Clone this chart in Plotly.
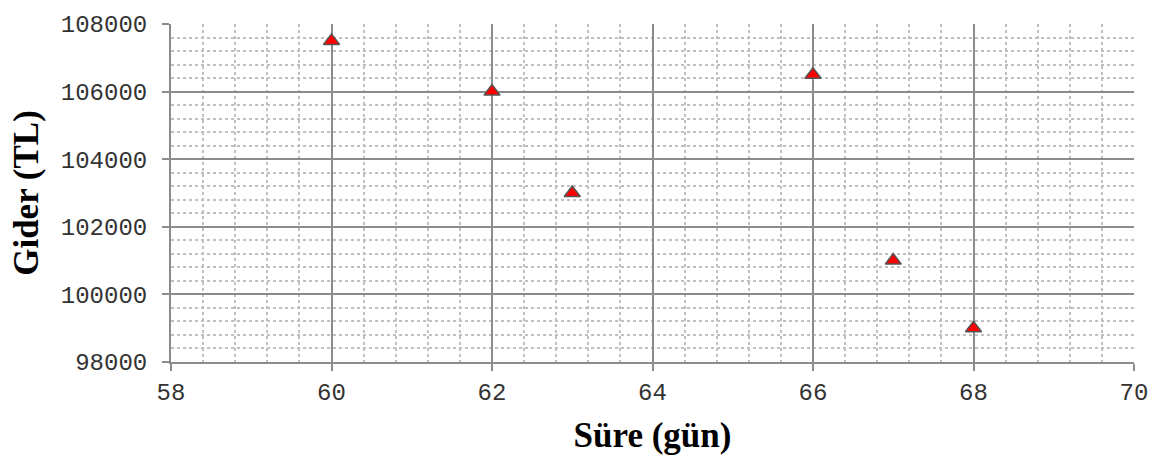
import plotly.graph_objects as go

sure_gun = [60, 62, 63, 66, 67, 68]
gider_tl = [107500, 106000, 103000, 106500, 101000, 99000]
x_title = "Süre (gün)"
y_title = "Gider (TL)"

fig = go.Figure()
fig.add_trace(go.Scatter(
    x=sure_gun, y=gider_tl, mode="markers",
    marker=dict(symbol="triangle-up", size=14, color="#ff0000",
                line=dict(color="#555555", width=1.5)),
    showlegend=False,
))

tick_font = dict(family="Liberation Mono, Courier New, monospace", size=24, color="#333")
title_font = dict(family="Liberation Serif, Times New Roman, serif", size=35, color="#000")

fig.update_layout(
    width=1160, height=461,
    margin=dict(l=171, r=23, t=18, b=99),
    paper_bgcolor="white", plot_bgcolor="white",
    xaxis=dict(
        range=[58, 70], dtick=2, tick0=58,
        showgrid=True, gridcolor="#8c8c8c", gridwidth=1.5,
        minor=dict(dtick=0.4, showgrid=True, gridcolor="#c0c0c0",
                   griddash="dot", gridwidth=1.5),
        showline=True, linecolor="#8c8c8c", linewidth=2,
        ticks="outside", ticklen=7, tickcolor="#8c8c8c", tickwidth=1.5,
        tickfont=tick_font, zeroline=False,
        title=dict(text="<b>" + x_title + "</b>", font=title_font, standoff=17),
    ),
    yaxis=dict(
        range=[98000, 108000], dtick=2000, tick0=98000,
        showgrid=True, gridcolor="#8c8c8c", gridwidth=1.5,
        minor=dict(dtick=400, showgrid=True, gridcolor="#c0c0c0",
                   griddash="dot", gridwidth=1.5),
        showline=True, linecolor="#8c8c8c", linewidth=2,
        ticks="outside", ticklen=7, tickcolor="#8c8c8c", tickwidth=1.5,
        tickfont=tick_font, zeroline=False, tickformat="d",
        ticklabelstandoff=10,
        title=dict(text="<b>" + y_title + "</b>", font=title_font, standoff=12),
    ),
)

fig.write_html("out.html", config={"displayModeBar": False},
               post_script="document.body.style.margin='0';")
